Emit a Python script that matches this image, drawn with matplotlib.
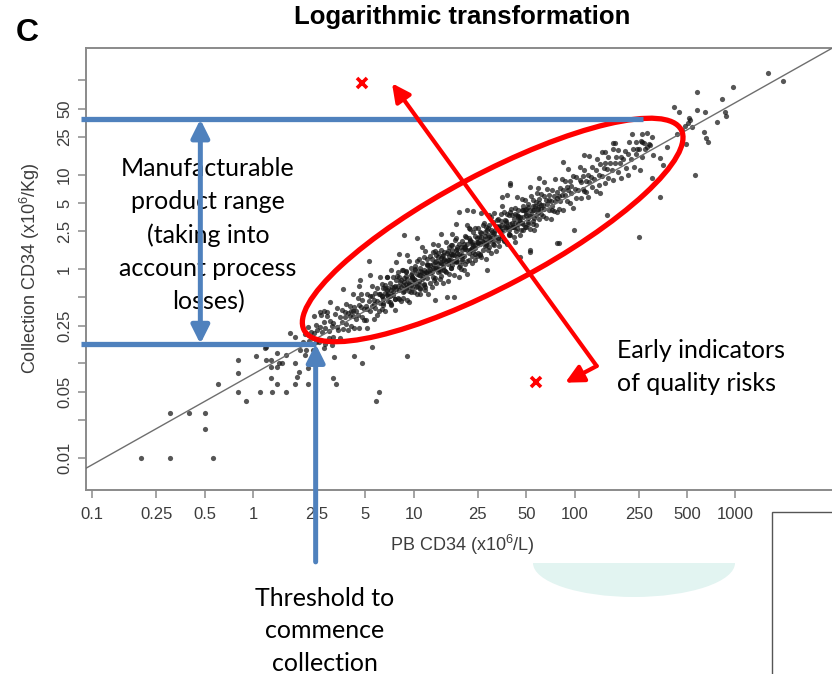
import numpy as np
import matplotlib
matplotlib.use("Agg")
import matplotlib.pyplot as plt
from matplotlib.patches import Ellipse, FancyArrowPatch, Rectangle
from matplotlib.ticker import NullLocator
from matplotlib.transforms import ScaledTranslation

plt.rcParams['font.family'] = ['Liberation Sans', 'DejaVu Sans']
plt.rcParams['mathtext.fontset'] = 'custom'
plt.rcParams['mathtext.rm'] = 'Liberation Sans'
plt.rcParams['mathtext.it'] = 'Liberation Sans:italic'

# main cloud, log10 of PB CD34 (x10^6/L) and log10 of collection CD34 (x10^6/Kg)
cloud_pb_log = [
    0.31, 0.33, 0.34, 0.35, 0.36, 0.37, 0.38, 0.38, 0.39, 0.32, 0.36, 0.39,
    0.40, 0.41, 0.42, 0.43, 0.44, 0.45, 0.45, 0.46, 0.47, 0.47, 0.48, 0.48, 0.49, 0.49, 0.44,
    0.50, 0.50, 0.51, 0.52, 0.52, 0.53, 0.54, 0.54, 0.55, 0.55, 0.56, 0.56, 0.57, 0.57, 0.58, 0.58, 0.59, 0.59,
    0.60, 0.60, 0.61, 0.61, 0.62, 0.62, 0.63, 0.63, 0.64, 0.64, 0.65, 0.65, 0.66, 0.66, 0.67, 0.67, 0.68, 0.68, 0.69, 0.69, 0.62, 0.66,
    0.70, 0.70, 0.71, 0.71, 0.72, 0.72, 0.73, 0.73, 0.74, 0.74, 0.75, 0.75, 0.76, 0.76, 0.77, 0.77, 0.78, 0.78, 0.79, 0.79, 0.71, 0.73, 0.75, 0.77, 0.79, 0.74,
    0.80, 0.80, 0.80, 0.81, 0.81, 0.82, 0.82, 0.83, 0.83, 0.84, 0.84, 0.85, 0.85, 0.86, 0.86, 0.87, 0.87, 0.88, 0.88, 0.89, 0.89, 0.81, 0.83, 0.85, 0.86, 0.87, 0.88, 0.89, 0.82, 0.84,
    0.90, 0.90, 0.91, 0.91, 0.92, 0.92, 0.93, 0.93, 0.94, 0.94, 0.95, 0.95, 0.96, 0.96, 0.97, 0.97, 0.98, 0.98, 0.99, 0.99, 0.90, 0.92, 0.93, 0.95, 0.96, 0.97, 0.98, 0.99, 0.91, 0.94, 0.96, 0.98,
    1.00, 1.00, 1.01, 1.01, 1.02, 1.02, 1.03, 1.03, 1.04, 1.04, 1.05, 1.05, 1.06, 1.06, 1.07, 1.07, 1.08, 1.08, 1.09, 1.09, 1.00, 1.01, 1.02, 1.03, 1.04, 1.05, 1.06, 1.07, 1.08, 1.09, 1.03, 1.05, 1.06, 1.08, 1.04,
    1.10, 1.10, 1.11, 1.11, 1.12, 1.12, 1.13, 1.13, 1.14, 1.14, 1.15, 1.15, 1.16, 1.16, 1.17, 1.17, 1.18, 1.18, 1.19, 1.19, 1.10, 1.11, 1.12, 1.13, 1.14, 1.15, 1.16, 1.17, 1.18, 1.19, 1.12, 1.14, 1.16, 1.18, 1.15, 1.17,
    1.20, 1.20, 1.21, 1.21, 1.22, 1.22, 1.23, 1.23, 1.24, 1.24, 1.25, 1.25, 1.26, 1.26, 1.27, 1.27, 1.28, 1.28, 1.29, 1.29, 1.20, 1.21, 1.22, 1.23, 1.24, 1.25, 1.26, 1.27, 1.28, 1.29, 1.22, 1.24, 1.26, 1.28, 1.23, 1.27,
    1.30, 1.30, 1.31, 1.31, 1.32, 1.32, 1.33, 1.33, 1.34, 1.34, 1.35, 1.35, 1.36, 1.36, 1.37, 1.37, 1.38, 1.38, 1.39, 1.39, 1.30, 1.31, 1.32, 1.33, 1.34, 1.35, 1.36, 1.37, 1.38, 1.39, 1.31, 1.34, 1.36, 1.38, 1.33, 1.37,
    1.40, 1.40, 1.41, 1.41, 1.42, 1.42, 1.43, 1.43, 1.44, 1.44, 1.45, 1.45, 1.46, 1.46, 1.47, 1.47, 1.48, 1.48, 1.49, 1.49, 1.40, 1.41, 1.42, 1.43, 1.44, 1.45, 1.46, 1.47, 1.48, 1.49, 1.42, 1.44, 1.46, 1.48,
    1.50, 1.50, 1.51, 1.51, 1.52, 1.52, 1.53, 1.53, 1.54, 1.54, 1.55, 1.55, 1.56, 1.56, 1.57, 1.57, 1.58, 1.58, 1.59, 1.59, 1.50, 1.51, 1.53, 1.54, 1.55, 1.56, 1.57, 1.58, 1.59, 1.52, 1.55, 1.58,
    1.60, 1.60, 1.61, 1.61, 1.62, 1.62, 1.63, 1.63, 1.64, 1.64, 1.65, 1.65, 1.66, 1.66, 1.67, 1.67, 1.68, 1.68, 1.69, 1.69, 1.60, 1.62, 1.63, 1.64, 1.65, 1.66, 1.67, 1.68, 1.69, 1.61,
    1.70, 1.70, 1.71, 1.71, 1.72, 1.72, 1.73, 1.73, 1.74, 1.74, 1.75, 1.75, 1.76, 1.76, 1.77, 1.77, 1.78, 1.78, 1.79, 1.79, 1.70, 1.72, 1.74, 1.75, 1.76, 1.78, 1.71, 1.77,
    1.80, 1.80, 1.81, 1.81, 1.82, 1.82, 1.83, 1.83, 1.84, 1.84, 1.85, 1.85, 1.86, 1.86, 1.87, 1.87, 1.88, 1.88, 1.89, 1.89, 1.81, 1.84, 1.86, 1.89,
    1.90, 1.90, 1.91, 1.91, 1.92, 1.92, 1.93, 1.93, 1.94, 1.94, 1.95, 1.95, 1.96, 1.96, 1.97, 1.97, 1.98, 1.98, 1.99, 1.99,
    2.00, 2.01, 2.01, 2.02, 2.03, 2.03, 2.04, 2.04, 2.05, 2.05, 2.06, 2.06, 2.07, 2.08, 2.08, 2.09, 2.09, 2.07,
    2.10, 2.11, 2.11, 2.12, 2.13, 2.13, 2.14, 2.15, 2.15, 2.16, 2.17, 2.17, 2.18, 2.19, 2.19, 2.16,
    2.20, 2.21, 2.21, 2.22, 2.23, 2.24, 2.24, 2.25, 2.26, 2.27, 2.27, 2.28, 2.29, 2.29,
    2.30, 2.31, 2.32, 2.33, 2.34, 2.35, 2.36, 2.37, 2.38, 2.38, 2.39, 2.33,
    2.40, 2.41, 2.42, 2.43, 2.44, 2.45, 2.46, 2.48,
]
cloud_col_log = [
    -0.77, -0.86, -0.61, -0.76, -0.67, -0.86, -0.50, -0.68, -0.77, -0.69, -0.95, -0.59,
    -0.65, -0.77, -0.49, -0.67, -0.56, -0.79, -0.62, -0.50, -0.66, -0.73, -0.55, -0.35, -0.60, -0.80, -0.45,
    -0.57, -0.72, -0.48, -0.61, -0.41, -0.65, -0.51, -0.73, -0.56, -0.43, -0.64, -0.21, -0.46, -0.51, -0.58, -0.37, -0.47, -0.65,
    -0.50, -0.39, -0.60, -0.44, -0.50, -0.27, -0.63, -0.40, -0.44, -0.53, -0.31, -0.49, -0.38, -0.63, -0.40, -0.26, -0.51, -0.33, -0.42, -0.54, -0.44, -0.18,
    -0.39, -0.54, -0.27, -0.42, 0.08, -0.34, -0.45, -0.29, -0.39, -0.18, -0.53, -0.33, -0.25, -0.41, -0.34, -0.20, -0.45, -0.27, -0.36, -0.09, -0.63, -0.06, -0.37, -0.49, -0.27, -0.29,
    -0.29, -0.42, -0.16, -0.32, -0.20, -0.45, -0.25, -0.28, -0.08, -0.34, -0.20, -0.29, -0.15, -0.38, -0.22, -0.08, -0.28, -0.18, -0.43, -0.21, -0.12, -0.38, -0.22, -0.35, -0.01, -0.24, -0.32, 0.07, -0.17, -0.25,
    -0.18, -0.31, -0.09, -0.22, -0.34, -0.12, -0.17, -0.01, -0.23, -0.10, -0.20, -0.03, -0.33, -0.11, -0.15, 0.08, -0.24, -0.06, -0.11, -0.20, -0.03, -0.19, -0.31, -0.07, -0.19, -0.35, 0.01, -0.08, 0.16, -0.14, 0.15, -0.17,
    -0.11, -0.24, -0.01, -0.12, -0.26, 0.08, -0.06, -0.16, -0.02, -0.27, -0.11, 0.06, -0.16, -0.01, 0.19, -0.19, -0.04, 0.04, -0.26, -0.01, -0.15, 0.00, -0.18, 0.11, -0.21, -0.03, -0.04, -0.22, 0.11, 0.04, -0.13, 0.23, -0.17, 0.05, -0.06,
    0.00, -0.15, 0.11, -0.03, -0.09, 0.05, 0.01, 0.19, -0.15, 0.09, 0.00, 0.13, -0.02, 0.07, 0.20, -0.07, 0.05, 0.15, -0.01, 0.11, 0.14, -0.19, 0.01, -0.10, 0.01, 0.25, -0.11, 0.12, 0.02, 0.18, 0.26, 0.15, 0.00, -0.15, 0.05, 0.37,
    0.09, -0.03, 0.19, 0.05, -0.05, 0.14, 0.25, 0.10, 0.04, 0.20, 0.15, -0.06, 0.20, 0.33, 0.08, 0.17, 0.26, 0.02, 0.14, 0.23, 0.29, -0.13, 0.10, 0.01, 0.37, 0.09, 0.07, 0.23, 0.16, 0.00, 0.23, 0.15, 0.48, -0.09, 0.16, 0.13,
    0.20, 0.08, 0.27, 0.14, 0.05, 0.35, 0.20, 0.26, 0.10, 0.33, 0.20, 0.42, 0.06, 0.27, 0.25, 0.18, 0.35, 0.22, 0.14, 0.33, 0.30, -0.01, 0.21, 0.47, 0.17, 0.30, 0.22, 0.39, 0.10, 0.29, 0.23, 0.43, 0.14, 0.25, -0.05, 0.61,
    0.29, 0.17, 0.39, 0.26, 0.13, 0.34, 0.29, 0.47, 0.24, 0.39, 0.28, 0.45, 0.20, 0.36, 0.57, 0.34, 0.17, 0.41, 0.37, 0.30, 0.43, 0.15, 0.38, 0.20, 0.32, 0.11, 0.43, 0.23, 0.33, 0.50, 0.59, 0.35, 0.29, 0.55,
    0.38, 0.25, 0.46, 0.34, 0.30, 0.53, 0.43, 0.24, 0.39, 0.51, 0.35, 0.47, 0.60, 0.31, 0.43, 0.51, 0.27, 0.46, 0.57, 0.41, 0.59, 0.19, 0.46, 0.33, 0.67, 0.45, 0.29, 0.58, 0.37, 0.44, 0.40, 0.78,
    0.48, 0.36, 0.57, 0.45, 0.34, 0.53, 0.65, 0.49, 0.43, 0.57, 0.48, 0.63, 0.36, 0.55, 0.74, 0.49, 0.55, 0.63, 0.44, 0.62, 0.60, 0.44, 0.29, 0.76, 0.55, 0.51, 0.63, 0.41, 0.73, 0.49,
    0.57, 0.44, 0.69, 0.54, 0.63, 0.42, 0.77, 0.58, 0.51, 0.67, 0.62, 0.41, 0.71, 0.57, 0.86, 0.66, 0.53, 0.70, 0.64, 0.79, 0.64, 0.87, 0.62, 0.54, 0.47, 0.74, 0.50, 0.60,
    0.68, 0.56, 0.77, 0.64, 0.54, 0.73, 0.85, 0.69, 0.63, 0.78, 0.72, 0.53, 0.84, 0.67, 0.77, 0.61, 0.95, 0.72, 0.82, 0.60, 0.92, 0.73, 0.63, 0.75,
    0.77, 0.64, 0.86, 0.72, 0.95, 0.78, 0.63, 0.84, 0.78, 0.93, 0.72, 0.87, 0.84, 1.06, 0.70, 0.93, 0.81, 0.88, 0.65, 0.99,
    0.85, 0.97, 0.75, 0.84, 0.94, 1.08, 0.75, 0.92, 0.99, 0.85, 1.05, 0.83, 0.93, 1.00, 0.76, 0.92, 1.20, 0.82,
    0.97, 0.87, 1.08, 0.95, 1.05, 0.83, 1.16, 1.00, 0.89, 1.11, 0.98, 1.24, 1.07, 0.91, 1.12, 0.81,
    1.06, 1.19, 0.96, 1.12, 1.05, 1.27, 0.94, 1.12, 1.19, 1.03, 1.26, 1.12, 1.19, 0.96,
    1.16, 1.25, 1.07, 1.22, 1.34, 1.17, 1.27, 1.08, 1.34, 1.22, 1.27, 1.00,
    1.27, 1.36, 1.19, 1.33, 1.27, 1.44, 1.32, 1.40,
]

# densest part of the band (log10)
core_pb_log = [
    0.803, 0.818, 0.811, 0.834, 0.842, 0.857, 0.861, 0.879, 0.884, 0.896,
    0.907, 0.912, 0.926, 0.931, 0.948, 0.953, 0.969, 0.972, 0.988, 0.991,
    1.004, 1.016, 1.022, 1.038, 1.041, 1.059, 1.063, 1.077, 1.082, 1.098,
    1.102, 1.119, 1.124, 1.133, 1.147, 1.151, 1.168, 1.174, 1.186, 1.193,
    1.206, 1.211, 1.229, 1.236, 1.244, 1.258, 1.262, 1.271, 1.289, 1.297,
    1.301, 1.315, 1.327, 1.332, 1.349, 1.356, 1.364, 1.378, 1.383, 1.399,
    1.408, 1.413, 1.421, 1.439, 1.446, 1.452, 1.467, 1.474, 1.485, 1.492,
    1.505, 1.517, 1.523, 1.536, 1.541, 1.559, 1.568, 1.571, 1.587, 1.594,
    1.602, 1.614, 1.628, 1.633, 1.645, 1.651, 1.669, 1.676, 1.681, 1.698,
    1.709, 1.712, 1.724, 1.738, 1.743, 1.755, 1.766, 1.772, 1.789, 1.791,
]
core_col_log = [
    -0.29, -0.20, -0.36, -0.09, -0.29, -0.37, -0.19, -0.19, -0.32, -0.07,
    -0.32, -0.14, -0.01, -0.24, -0.16, -0.02, -0.23, -0.16, -0.04, -0.08,
    0.03, -0.19, -0.05, 0.01, -0.20, -0.08, 0.13, -0.03, -0.10, 0.04,
    -0.04, 0.18, -0.12, 0.07, 0.17, -0.03, 0.06, 0.14, 0.10, -0.02,
    0.17, 0.10, 0.01, 0.25, 0.16, 0.31, 0.08, 0.21, 0.04, 0.15,
    0.11, 0.23, 0.34, 0.08, 0.31, 0.21, 0.29, 0.16, 0.43, 0.28,
    0.34, 0.16, 0.30, 0.49, 0.25, 0.41, 0.47, 0.32, 0.39, 0.27,
    0.41, 0.52, 0.33, 0.41, 0.58, 0.30, 0.52, 0.49, 0.43, 0.36,
    0.64, 0.45, 0.58, 0.40, 0.56, 0.52, 0.41, 0.67, 0.48, 0.59,
    0.48, 0.66, 0.56, 0.73, 0.48, 0.67, 0.80, 0.64, 0.58, 0.68,
]

# scattered points away from the main band (log10)
sparse_pb_log = [
    3.204, 3.298, 2.987, 2.763, 2.915, 2.618, 2.650, 2.760, 2.811, 2.935, 2.941, 2.718,
    2.707, 2.884, 2.728, 2.666, 2.805, 2.832, 2.817, 2.693, 2.751, 2.531, 2.355, 2.418,
    2.252, 2.449, 2.397, 2.469, 2.573, 2.552, 2.488, 2.635, 2.687, 2.713, 2.531, 2.418,
    -0.694, -0.518, -0.249, -0.518, -0.398, -0.296, -0.296, -0.218, -0.091, -0.091, -0.091, -0.046,
    0.016, 0.044, 0.083, 0.083, 0.114, 0.114, 0.114, 0.120, 0.151, 0.151, 0.151, 0.180,
    0.207, 0.203, 0.227, 0.261, 0.261, 0.275, 0.283, 0.290, 0.344, 0.344, 0.321, 0.497,
    0.518, 0.439, 0.781, 0.766, 0.957, 0.677, 0.501, 0.625, 0.740, 0.263, 0.076, 0.159,
    0.418, 0.460, 0.418,
    0.936, 1.019, 0.667, 1.278, 1.330, 1.599, 1.930, 1.775, 1.600, 1.548, 2.241, 2.055,
    2.190, 1.889, 1.993, 2.200, 1.723, 1.661, 2.480, 2.407, 1.900, 1.723, 1.454, 1.247,
    1.206, 1.133,
]
sparse_col_log = [
    2.073, 1.990, 1.925, 1.872, 1.798, 1.719, 1.666, 1.684, 1.660, 1.660, 1.624, 1.578,
    1.543, 1.554, 1.507, 1.472, 1.448, 1.342, 1.391, 1.321, 0.996, 0.766, 1.427, 1.427,
    1.332, 1.296, 0.342, 1.314, 1.296, 1.102, 1.208, 1.430, 1.518, 1.596, 1.173, 1.349,
    -2.000, -2.000, -2.000, -1.522, -1.522, -1.522, -1.698, -1.218, -0.964, -1.098, -1.303, -1.395,
    -0.922, -1.303, -0.829, -0.964, -0.964, -1.035, -1.158, -1.303, -0.886, -1.035, -1.218, -0.999,
    -1.303, -0.911, -0.681, -0.999, -1.218, -1.147, -1.094, -0.858, -1.218, -1.052, -0.911, -1.158,
    -1.218, -0.840, -1.300, -1.395, -0.922, -0.993, -0.929, -0.922, -0.823, -0.717, -0.840, -0.993,
    -0.452, -0.452, -0.611,
    0.360, 0.325, -0.117, 0.607, 0.625, 0.890, 1.137, 0.961, 0.908, 0.766, 1.338, 1.208,
    1.243, 0.272, 0.413, 0.572, 0.183, 0.130, 0.961, 1.049, 0.272, 0.201, -0.010, -0.293,
    -0.293, -0.328,
]

# flagged samples (red crosses)
flag_pb = [4.78, 57.6]
flag_col = [94.2, 0.0635]

# fitted line: log10(col) = intercept + slope * log10(pb)
fit_intercept = -1.114
fit_slope = 0.959

x_ticks = [0.1, 0.25, 0.5, 1, 2.5, 5, 10, 25, 50, 100, 250, 500, 1000]
x_labels = ['0.1', '0.25', '0.5', '1', '2.5', '5', '10', '25', '50', '100', '250', '500', '1000']
y_ticks = [0.01, 0.025, 0.05, 0.1, 0.25, 0.5, 1, 2.5, 5, 10, 25, 50, 100]
y_labels = ['0.01', '', '0.05', '', '0.25', '', '1', '2.5', '5', '10', '25', '50', '']

# annotation anchors (data units)
range_low = 0.161
range_high = 38.5
range_arrow_x = 0.47
threshold_pb = 2.45
band_right = 267
line_left = 0.0857
arrow_foot = 0.00079
risk_top = (7.31, 92.7)
risk_corner = (137, 0.0938)
risk_bottom = (87.3, 0.0625)
ellipse_center = (30.9, 2.59)

blue = '#4f81bd'

fig = plt.figure(figsize=(8.32, 6.74), dpi=100, facecolor='white')
ax = fig.add_axes([86 / 832, 184 / 674, 814 / 832, 442 / 674])
ax.set_xscale('log')
ax.set_yscale('log')
ax.set_xlim(10 ** -1.039, 10 ** 4.023)
ax.set_ylim(10 ** -2.341, 10 ** 2.341)

pb = 10 ** np.concatenate([cloud_pb_log, core_pb_log, sparse_pb_log])
col = 10 ** np.concatenate([cloud_col_log, core_col_log, sparse_col_log])
ax.scatter(pb, col, s=14, c='#151515', alpha=0.72, linewidths=0, zorder=2)

xs = np.array([0.05, 20000.0])
ax.plot(xs, 10 ** (fit_intercept + fit_slope * np.log10(xs)), color='#6e6e6e', lw=1.0, zorder=3)

ax.set_xticks(x_ticks)
ax.set_xticklabels(x_labels)
ax.set_yticks(y_ticks)
ax.set_yticklabels(y_labels, rotation=90, va='center')
ax.xaxis.set_minor_locator(NullLocator())
ax.yaxis.set_minor_locator(NullLocator())
ax.tick_params(axis='both', length=6, width=1.1, color='#8a8a8a', labelcolor='#3c3c3c', labelsize=12)
ax.tick_params(axis='x', pad=6)
ax.tick_params(axis='y', pad=4)
for s in ax.spines.values():
    s.set_color('#8a8a8a')
    s.set_linewidth(1.4)

# red ellipse around the main band
ell = Ellipse((0, 0), 4.27, 1.12, angle=28, fill=False, ec='red', lw=3.8, zorder=5,
              transform=fig.dpi_scale_trans + ScaledTranslation(ellipse_center[0], ellipse_center[1], ax.transData))
ax.add_patch(ell)

# blue range lines and arrows
ax.plot([line_left, band_right], [range_high, range_high], color=blue, lw=3.8,
        solid_capstyle='butt', clip_on=False, zorder=6)
ax.plot([line_left, threshold_pb], [range_low, range_low], color=blue, lw=3.8,
        solid_capstyle='butt', clip_on=False, zorder=6)
ax.add_patch(FancyArrowPatch((range_arrow_x, range_low), (range_arrow_x, range_high),
                             arrowstyle='<|-|>,head_length=0.9,head_width=0.45', mutation_scale=12,
                             color=blue, lw=3.6, shrinkA=0, shrinkB=0, clip_on=False, zorder=6))
ax.add_patch(FancyArrowPatch((threshold_pb, arrow_foot), (threshold_pb, range_low),
                             arrowstyle='-|>,head_length=0.9,head_width=0.45', mutation_scale=12,
                             color=blue, lw=3.6, shrinkA=0, shrinkB=0, clip_on=False, zorder=6))

# red arrows to flagged samples
for tip in [risk_top, risk_bottom]:
    ax.add_patch(FancyArrowPatch(risk_corner, tip,
                                 arrowstyle='-|>,head_length=0.9,head_width=0.45', mutation_scale=12,
                                 color='red', lw=3.0, shrinkA=0, shrinkB=0, clip_on=False, zorder=7))
ax.plot(flag_pb, flag_col, 'x', color='red', ms=7, mew=2.6, clip_on=False, zorder=8)

# annotation text
note_font = ['Lato', 'DejaVu Sans']
ax.text(208 / 832, 1 - 235 / 674, 'Manufacturable\nproduct range\n(taking into\naccount process\nlosses)',
        transform=fig.transFigure, ha='center', va='center', multialignment='center',
        fontsize=18, family=note_font, linespacing=1.52, zorder=4)
ax.text(617 / 832, 1 - 367 / 674, 'Early indicators\nof quality risks',
        transform=fig.transFigure, ha='left', va='center', fontsize=18, family=note_font,
        linespacing=1.52, zorder=4)
ax.text(325 / 832, 1 - 631 / 674, 'Threshold to\ncommence\ncollection',
        transform=fig.transFigure, ha='center', va='center', multialignment='center',
        fontsize=18, family=note_font, linespacing=1.52, zorder=4)

fig.text(462 / 832, 1 - 17 / 674, 'Logarithmic transformation', ha='center', va='center',
         fontsize=18.5, fontweight='bold')
fig.text(27 / 832, 1 - 33 / 674, 'C', ha='center', va='center', fontsize=23, fontweight='bold')
fig.text(462 / 832, 1 - 545 / 674, 'PB CD34 (x10$^6$/L)', ha='center', va='center',
         fontsize=13, color='#3c3c3c')
fig.text(30 / 832, 1 - 268 / 674, 'Collection CD34 (x10$^6$/Kg)', ha='center', va='center',
         rotation=90, fontsize=13, color='#3c3c3c')

# slide decorations below the plot
clip = Rectangle((0, 0), 1, 1 - 563 / 674, transform=fig.transFigure, visible=False)
fig.patches.append(clip)
shade = Ellipse((634 / 832, 1 - 563 / 674), 202 / 832, 68 / 674, transform=fig.transFigure,
                fc='#e2f4f1', ec='none')
shade.set_clip_path(clip)
fig.patches.append(shade)
fig.patches.append(Rectangle((772 / 832, -0.01), 0.5, (674 - 512) / 674 + 0.01,
                             transform=fig.transFigure, fc='white', ec='#555555', lw=1.0))

fig.savefig('out.png', dpi=100, facecolor='white')
